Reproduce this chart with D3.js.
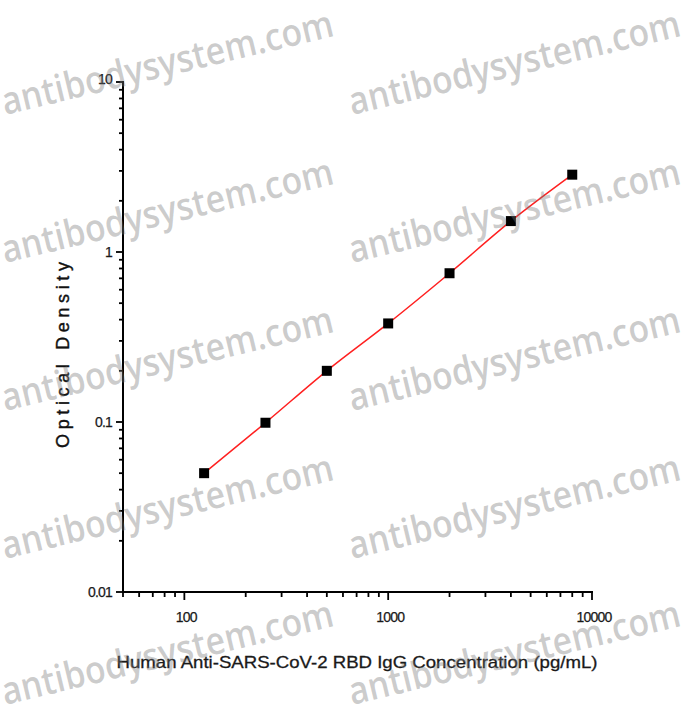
<!DOCTYPE html>
<html><head><meta charset="utf-8">
<script src="https://cdn.jsdelivr.net/npm/d3@7"></script>
<style>body{margin:0;background:#fff}svg{display:block}</style>
</head><body>
<svg id="c" width="694" height="717"></svg>
<script>
const concentrations = [125, 250, 500, 1000, 2000, 4000, 8000];
const odValues = [0.050, 0.099, 0.20, 0.38, 0.75, 1.52, 2.85];
const xTickLabels = [100, 1000, 10000];
const yTickLabels = [0.01, 0.1, 1, 10];
const xTitle = "Human Anti-SARS-CoV-2 RBD IgG Concentration (pg/mL)";
const yTitle = "Optical Density";
const watermark = "antibodysystem.com";

const svg = d3.select("#c");
const x = d3.scaleLog().domain([50, 10000]).range([123, 592]);
const y = d3.scaleLog().domain([0.01, 10]).range([592, 82]);

function minorTicks(lo, hi) {
  const t = [];
  for (let e = Math.floor(Math.log10(lo)); e <= Math.ceil(Math.log10(hi)); e++) {
    for (let m = 1; m < 10; m++) {
      const v = m * Math.pow(10, e);
      if (v >= lo * 0.9999 && v <= hi * 1.0001) t.push(v);
    }
  }
  return t;
}
const font = "Arial, 'Liberation Sans', sans-serif";

// X axis
const xAxisG = svg.append("g").attr("transform", "translate(0,592)");
xAxisG.append("line").attr("x1", x.range()[0] - 1).attr("x2", x.range()[1] + 1)
  .attr("stroke", "#000").attr("stroke-width", 2);
const xMinor = minorTicks(50, 10000);
xAxisG.selectAll("line.t").data(xMinor).join("line").attr("class", "t")
  .attr("x1", d => x(d)).attr("x2", d => x(d)).attr("y1", 0)
  .attr("y2", d => xTickLabels.includes(d) ? 8 : 5)
  .attr("stroke", "#000").attr("stroke-width", 1.8);
xAxisG.selectAll("text").data(xTickLabels).join("text")
  .attr("x", d => x(d) + 2).attr("y", 30).attr("text-anchor", "middle")
  .attr("font-family", font).attr("font-size", 14).attr("fill", "#1a1a1a")
  .attr("stroke", "#1a1a1a").attr("stroke-width", 0.25)
  .attr("letter-spacing", -0.8).text(d => d);

// Y axis
const yAxisG = svg.append("g").attr("transform", "translate(123,0)");
yAxisG.append("line").attr("y1", y.range()[0] + 1).attr("y2", y.range()[1] - 1)
  .attr("stroke", "#000").attr("stroke-width", 2);
const yMinor = minorTicks(0.01, 10);
yAxisG.selectAll("line.t").data(yMinor).join("line").attr("class", "t")
  .attr("y1", d => y(d)).attr("y2", d => y(d)).attr("x1", 0)
  .attr("x2", d => yTickLabels.includes(d) ? -7 : -4)
  .attr("stroke", "#000").attr("stroke-width", 1.8);
yAxisG.selectAll("text").data(yTickLabels).join("text")
  .attr("x", -11).attr("y", d => y(d) + 5 - (d === 10 ? 3 : 0)).attr("text-anchor", "end")
  .attr("font-family", font).attr("font-size", 14).attr("fill", "#1a1a1a")
  .attr("stroke", "#1a1a1a").attr("stroke-width", 0.25)
  .attr("letter-spacing", -0.8).text(d => d);

// Titles
svg.append("text").attr("x", 357).attr("y", 668).attr("text-anchor", "middle")
  .attr("font-family", font).attr("font-size", 17).attr("fill", "#1a1a1a")
  .attr("stroke", "#1a1a1a").attr("stroke-width", 0.3)
  .attr("textLength", 481).attr("lengthAdjust", "spacingAndGlyphs").text(xTitle);
svg.append("text").attr("transform", "translate(69,355) rotate(-90)").attr("text-anchor", "middle")
  .attr("font-family", font).attr("font-size", 18).attr("fill", "#111")
  .attr("stroke", "#111").attr("stroke-width", 0.4)
  .attr("textLength", 186).attr("lengthAdjust", "spacing").text(yTitle);

// Curve
const pts = concentrations.map((c, i) => [x(c), y(odValues[i])]);
svg.append("path").attr("d", d3.line().curve(d3.curveMonotoneX)(pts))
  .attr("fill", "none").attr("stroke", "#ff2020").attr("stroke-width", 1.5);

// Points
svg.selectAll("rect.pt").data(concentrations).join("rect").attr("class", "pt")
  .attr("x", (c) => x(c) - 5).attr("y", (c, i) => y(odValues[i]) - 5)
  .attr("width", 10).attr("height", 10).attr("fill", "#000");

// Watermarks
const wmRows = [115, 263, 411, 559, 705];
const wmCols = [5, 352];
const wm = svg.append("g").attr("pointer-events", "none");
wmRows.forEach(r => wmCols.forEach(cx => {
  wm.append("text").attr("transform", `translate(${cx},${r}) rotate(-13.5)`)
    .attr("font-family", "'Open Sans', 'Noto Sans', sans-serif").attr("font-size", 38)
    .attr("font-weight", 600)
    .attr("fill", "#777").attr("fill-opacity", 0.38)
    .attr("textLength", 340).attr("lengthAdjust", "spacingAndGlyphs").text(watermark);
}));
</script>
</body></html>
